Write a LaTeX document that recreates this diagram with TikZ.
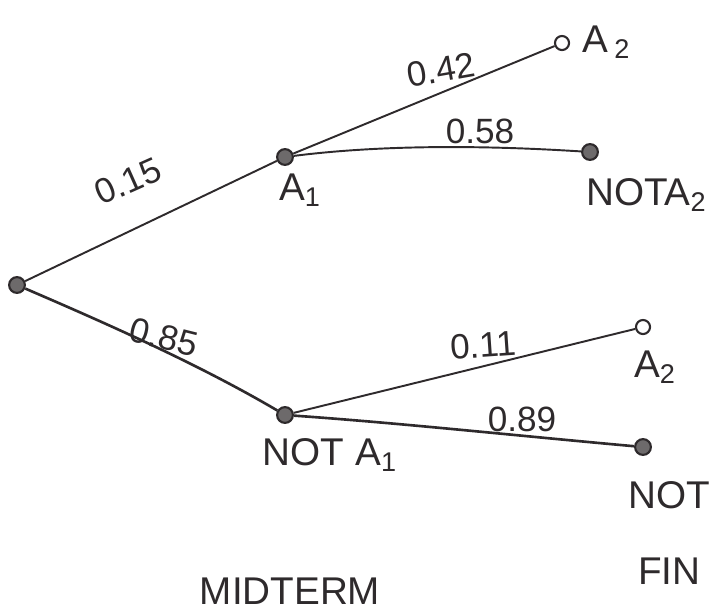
\documentclass[tikz,border=0pt]{standalone}
\usepackage{fontspec}
\setmainfont{Liberation Sans}
\definecolor{ink}{HTML}{2E2A2C}
\begin{document}
\begin{tikzpicture}[x=0.02cm,y=-0.02cm,
  dot/.style={circle,draw=ink,fill=ink!70,line width=1.2pt,inner sep=0pt,minimum size=9pt},
  odot/.style={circle,draw=ink,fill=white,line width=1.2pt,inner sep=0pt,minimum size=8pt},
  edge/.style={draw=ink,line width=1.1pt},
  thick edge/.style={draw=ink,line width=1.5pt},
  lab/.style={text=ink,font=\fontsize{22}{24}\selectfont,inner sep=1pt},
  prob/.style={text=ink,font=\fontsize{20}{22}\selectfont,inner sep=1pt}]
\useasboundingbox (0,0) rectangle (720,613);
% nodes
\node[dot] (r) at (17,285) {};
\node[dot] (a1) at (285,157) {};
\node[odot] (a2t) at (562,43) {};
\node[dot] (na2t) at (590,152) {};
\node[dot] (na1) at (285,415) {};
\node[odot] (a2b) at (643,327) {};
\node[dot] (na2b) at (643,447) {};
% connectors
\draw[edge] (r) -- (a1);
\draw[thick edge] (r) .. controls (110,325) and (200,365) .. (na1);
\draw[edge] (a1) -- (a2t);
\draw[edge] (a1) .. controls (380,145) and (480,145) .. (na2t);
\draw[edge] (na1) -- (a2b);
\draw[thick edge] (na1) .. controls (400,423) and (520,436) .. (na2b);
% probabilities
\node[prob,rotate=24] (p15) at (128,181) {0.15};
\node[prob,rotate=-14] (p85) at (164,337) {0.85};
\node[prob,rotate=10] (p42) at (441,70) {0.42};
\node[prob] (p58) at (480,131) {0.58};
\node[prob,rotate=4] (p11) at (483,345) {0.11};
\node[prob] (p89) at (522,419) {0.89};
% labels
\node[lab,anchor=west] (la2t) at (580,42) {A\,$_{\mathrm{2}}$};
\node[lab] (la1) at (300,190) {A$_{\mathrm{1}}$};
\node[lab,anchor=west] (lna2t) at (584,195) {NOTA$_{\mathrm{2}}$};
\node[lab,anchor=west] (la2b) at (632,367) {A$_{\mathrm{2}}$};
\node[lab] (lna1) at (330,455) {NOT A$_{\mathrm{1}}$};
\node[lab,anchor=west] (lna2b) at (626,495) {NOT};
\node[lab,anchor=west] (lfin) at (636,571) {FIN};
\node[lab] (lmid) at (290,591) {MIDTERM};
\end{tikzpicture}
\end{document}
